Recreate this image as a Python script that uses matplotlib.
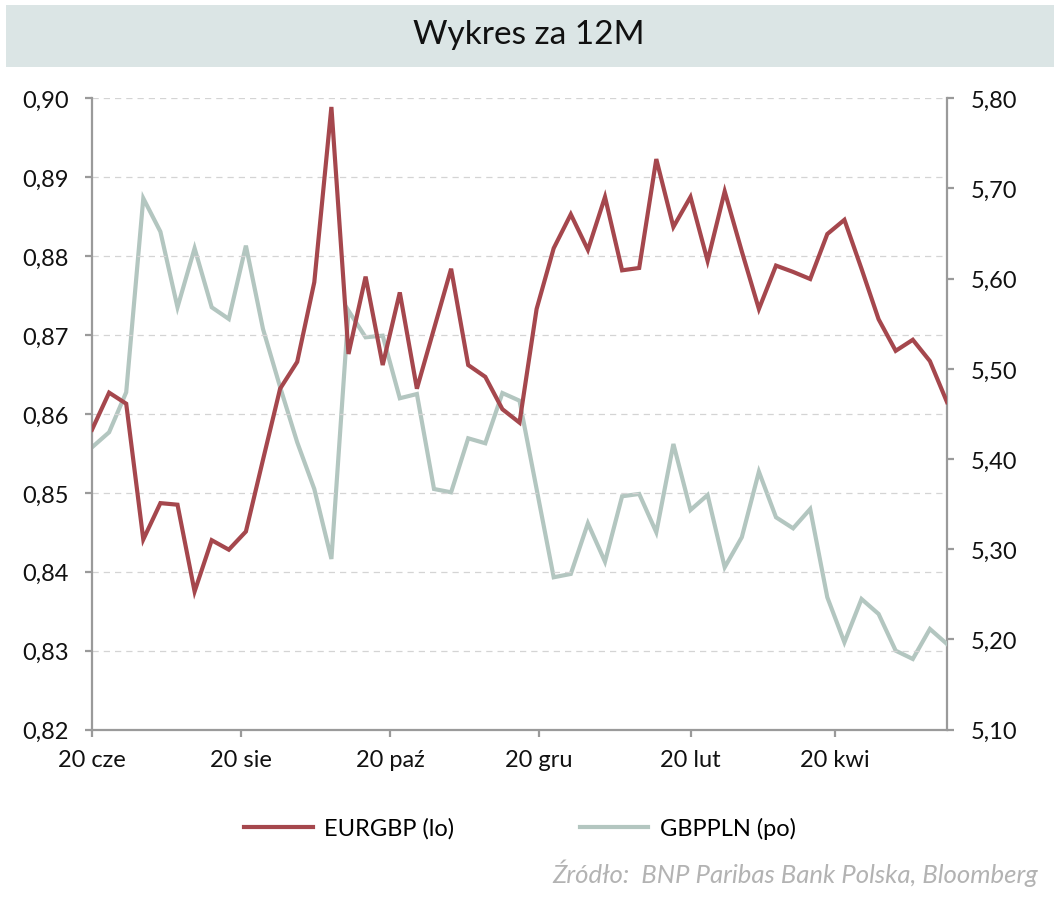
import matplotlib
matplotlib.use("Agg")
import matplotlib.pyplot as plt
import matplotlib.dates as mdates
from matplotlib.patches import Rectangle
import pandas as pd

plt.rcParams['font.family'] = ['Lato', 'DejaVu Sans']

title = "Wykres za 12M"
source = "Źródło:  BNP Paribas Bank Polska, Bloomberg"
series_names = ["EURGBP (lo)", "GBPPLN (po)"]
start_date = "2022-06-20"
n_weeks = 51

eurgbp = [0.8580, 0.8627, 0.8613, 0.8441, 0.8487, 0.8485, 0.8375, 0.8440, 0.8428, 0.8451,
          0.8542, 0.8632, 0.8666, 0.8767, 0.8989, 0.8676, 0.8774, 0.8662, 0.8754, 0.8632,
          0.8708, 0.8784, 0.8662, 0.8647, 0.8606, 0.8589, 0.8733, 0.8810, 0.8853, 0.8808,
          0.8875, 0.8782, 0.8785, 0.8923, 0.8837, 0.8875, 0.8794, 0.8882, 0.8806, 0.8733,
          0.8788, 0.8780, 0.8771, 0.8828, 0.8846, 0.8784, 0.8720, 0.8680, 0.8694, 0.8667,
          0.8615]
gbppln = [5.4130, 5.4297, 5.4740, 5.6891, 5.6521, 5.5683, 5.6337, 5.5683, 5.5553, 5.6366,
          5.5442, 5.4799, 5.4186, 5.3668, 5.2892, 5.5645, 5.5350, 5.5368, 5.4674, 5.4721,
          5.3668, 5.3631, 5.4230, 5.4175, 5.4732, 5.4647, 5.3668, 5.2689, 5.2726, 5.3288,
          5.2862, 5.3587, 5.3613, 5.3188, 5.4167, 5.3435, 5.3601, 5.2800, 5.3133, 5.3860,
          5.3354, 5.3232, 5.3446, 5.2467, 5.1968, 5.2448, 5.2282, 5.1875, 5.1783, 5.2116,
          5.1949]
left_ticks = [0.82, 0.83, 0.84, 0.85, 0.86, 0.87, 0.88, 0.89, 0.90]
right_ticks = [5.10, 5.20, 5.30, 5.40, 5.50, 5.60, 5.70, 5.80]
month_names = {6: "cze", 8: "sie", 10: "paź", 12: "gru", 2: "lut", 4: "kwi"}

dates = pd.date_range(start_date, periods=n_weeks, freq="7D")

red = "#a5474d"
grey = "#b3c6c0"
spine_c = "#9a9a9a"
fs = 17

fig = plt.figure(figsize=(10.6, 9.03), dpi=100)
fig.patches.append(Rectangle((6 / 1060, 1 - 68 / 903), 1048 / 1060, 62 / 903,
                             transform=fig.transFigure, facecolor="#dbe5e5",
                             edgecolor="none", zorder=0))
fig.text(529 / 1060, 1 - 35 / 903, title, ha="center", va="center", fontsize=24, color="#111111")

ax = fig.add_axes([92 / 1060, 1 - 730.6 / 903, 855 / 1060, 631.3 / 903])
ax2 = ax.twinx()
ax.set_zorder(ax2.get_zorder() + 1)
ax.patch.set_visible(False)

l1, = ax.plot(dates, eurgbp, color=red, lw=3.0, solid_joinstyle="miter", zorder=5)
l2, = ax2.plot(dates, gbppln, color=grey, lw=3.0, solid_joinstyle="miter", zorder=3)

ax.set_ylim(0.82, 0.90)
ax2.set_ylim(5.10, 5.80)
ax.set_xlim(dates[0], dates[-1])
ax.set_yticks(left_ticks)
ax2.set_yticks(right_ticks)
ax.set_yticklabels([f"{v:.2f}".replace(".", ",") for v in left_ticks])
ax2.set_yticklabels([f"{v:.2f}".replace(".", ",") for v in right_ticks])

ax.xaxis.set_major_locator(mdates.MonthLocator(bymonth=list(month_names.keys()), bymonthday=20))
ax.xaxis.set_major_formatter(plt.FuncFormatter(
    lambda x, pos: f"{mdates.num2date(x).day} {month_names[mdates.num2date(x).month]}"))

for a in (ax, ax2):
    for s in a.spines.values():
        s.set_color(spine_c)
        s.set_linewidth(1.6)
    a.spines["top"].set_visible(False)
ax.spines["right"].set_visible(False)
ax2.spines["left"].set_visible(False)
ax2.spines["bottom"].set_visible(False)

ax.tick_params(axis="y", length=5, width=1.6, color=spine_c, labelsize=fs, pad=12, labelcolor="#111111")
ax2.tick_params(axis="y", length=5, width=1.6, color=spine_c, labelsize=fs, pad=12, labelcolor="#111111")
ax.tick_params(axis="x", length=5, width=1.6, color=spine_c, labelsize=fs, pad=9, labelcolor="#111111")

ax.grid(axis="y", color="#d4d4d4", linestyle=(0, (5, 4)), linewidth=0.9)
ax.set_axisbelow(True)

fig.legend(handles=[l1, l2], labels=series_names, loc="center",
           bbox_to_anchor=(520 / 1060, 1 - 829 / 903), ncol=2, frameon=False,
           fontsize=fs, handlelength=2.9, handletextpad=0.5, columnspacing=5.3)

fig.text(1038 / 1060, 1 - 873 / 903, source, ha="right", va="center", fontsize=18.5,
         style="italic", color="#b3b3b3")

fig.savefig("out.png", dpi=100)
